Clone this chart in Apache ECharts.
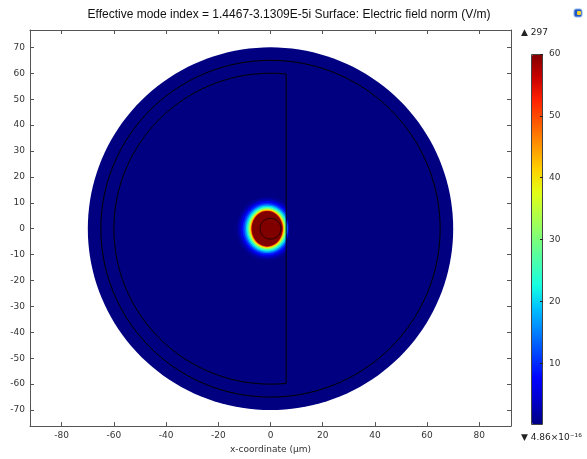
<!DOCTYPE html>
<html><head><meta charset="utf-8">
<script src="https://cdn.jsdelivr.net/npm/echarts@6/dist/echarts.min.js"></script>
<style>html,body{margin:0;padding:0;background:#fff}#c{width:587px;height:459px}</style>
</head><body><div id="c"></div>
<script>
// ---------------- data ----------------
const titleText = 'Effective mode index = 1.4467-3.1309E-5i Surface: Electric field norm (V/m)';
const xAxisName = 'x-coordinate (\u00b5m)';
const xTicks = [-80, -60, -40, -20, 0, 20, 40, 60, 80];
const yTicks = [-70, -60, -50, -40, -30, -20, -10, 0, 10, 20, 30, 40, 50, 60, 70];
const colorbarTicks = [10, 20, 30, 40, 50, 60];
const fieldMin = 4.86e-16;
const fieldMax = 297;
const colorMax = 60;
const maxLabel = '\u25B2 297';
const minLabel = '\u25BC 4.86\u00d710\u207b\u00b9\u2076';

// geometry (µm)
const outerRadius = 70;
const claddingRadius = 65;
const dRadius = 60;
const flatX = 6;
const coreRadius = 4;

// field contours: level (V/m) and ellipse half-widths (µm)
const fieldCenter = [-1.3, 0];
const fieldLevels = [1, 3, 6, 10, 15, 20, 25, 30, 35, 40, 45, 50, 55, 60, 297];
const fieldRx = [11.8, 10.9, 10.1, 9.4, 8.7, 8.1, 7.6, 7.2, 6.85, 6.55, 6.3, 6.1, 5.95, 5.85, 3.0];
const fieldRy = [12.3, 11.4, 10.7, 10.0, 9.4, 8.9, 8.4, 8.0, 7.65, 7.4, 7.15, 6.95, 6.85, 6.75, 3.5];
// field just outside the flat face (x > flatX)
const flankLevels = [4, 10, 18];
const flankRx = [1.1, 0.75, 0.45];
const flankRy = [4.2, 3.5, 2.7];

// jet colour table
const jet = ['#000080','#0000c8','#0000ff','#0040ff','#0080ff','#00bfff','#15ffe2','#48ffaf',
             '#7bff7b','#afff48','#e2ff15','#ffd200','#ff9700','#ff5c00','#ff2100','#c80000','#800000'];

// ---------------- build ----------------
const domainData = [[0, 0, outerRadius, outerRadius, fieldMin]];
const fieldData = fieldLevels.map((v, i) => [fieldCenter[0], fieldCenter[1], fieldRx[i], fieldRy[i], v]);
const flankData = flankLevels.map((v, i) => [flatX, 0, flankRx[i], flankRy[i], v]);

function ellipsePoints(api, cx, cy, rx, ry, side) {
  const pts = [];
  const n = 160;
  for (let k = 0; k < n; k++) {
    const t = 2 * Math.PI * k / n;
    let x = cx + rx * Math.cos(t);
    const y = cy + ry * Math.sin(t);
    if (side < 0) x = Math.min(x, flatX);
    else if (side > 0) x = Math.max(x, flatX);
    pts.push(api.coord([x, y]));
  }
  return pts;
}
function ellipseRenderer(side) {
  return function (params, api) {
    return {
      type: 'polygon',
      shape: { points: ellipsePoints(api, api.value(0), api.value(1), api.value(2), api.value(3), side) },
      style: { fill: api.visual('color'), stroke: null },
      silent: true
    };
  };
}
function geometryRenderer(params, api) {
  const clad = ellipsePoints(api, 0, 0, claddingRadius, claddingRadius, 0);
  const core = ellipsePoints(api, 0, 0, coreRadius, coreRadius, 0);
  const t0 = Math.acos(flatX / dRadius);
  const dPts = [];
  const n = 200;
  for (let k = 0; k <= n; k++) {
    const t = t0 + (2 * Math.PI - 2 * t0) * k / n;
    dPts.push(api.coord([dRadius * Math.cos(t), dRadius * Math.sin(t)]));
  }
  const st = { fill: 'none', stroke: '#000', lineWidth: 1 };
  return {
    type: 'group', silent: true,
    children: [
      { type: 'polygon', shape: { points: clad }, style: st },
      { type: 'polygon', shape: { points: dPts }, style: st },
      { type: 'polygon', shape: { points: core }, style: { fill: 'none', stroke: '#1a0000', lineWidth: 1 } }
    ]
  };
}

const labelFont = { fontFamily: 'DejaVu Sans', fontSize: 9, color: '#333' };
const axisLineStyle = { show: true, onZero: false, lineStyle: { color: '#555', width: 1 } };
const tickStyle = { inside: true, length: 4, lineStyle: { color: '#555' } };
const X0 = -92.15, X1 = 92.15, Y0 = -76.2, Y1 = 76.7;

const chart = echarts.init(document.getElementById('c'), null, { renderer: 'canvas' });
chart.setOption({
  animation: false,
  backgroundColor: '#fff',
  grid: [
    { left: 30, right: 76, top: 30, bottom: 31 },
    { left: 532, top: 54, width: 11, height: 371 }
  ],
  xAxis: [
    { type: 'value', gridIndex: 0, position: 'bottom', min: X0, max: X1,
      axisLine: axisLineStyle, splitLine: { show: false },
      axisTick: Object.assign({ customValues: xTicks }, tickStyle),
      axisLabel: Object.assign({ customValues: xTicks, margin: 5 }, labelFont),
      name: xAxisName, nameLocation: 'middle', nameGap: 17, nameTextStyle: labelFont },
    { type: 'value', gridIndex: 1, show: false, min: 0, max: 1, axisLine: { show: false, onZero: false } },
    { type: 'value', gridIndex: 0, position: 'top', min: X0, max: X1,
      axisLine: axisLineStyle, splitLine: { show: false },
      axisTick: Object.assign({ customValues: xTicks }, tickStyle),
      axisLabel: { show: false } }
  ],
  yAxis: [
    { type: 'value', gridIndex: 0, position: 'left', min: Y0, max: Y1,
      axisLine: axisLineStyle, splitLine: { show: false },
      axisTick: Object.assign({ customValues: yTicks }, tickStyle),
      axisLabel: Object.assign({ customValues: yTicks, margin: 5 }, labelFont) },
    { type: 'value', gridIndex: 1, position: 'right', min: 0, max: colorMax, z: 20,
      axisLine: { show: false, onZero: false }, splitLine: { show: false },
      axisTick: { customValues: colorbarTicks, inside: true, length: 3, lineStyle: { color: '#222' } },
      axisLabel: Object.assign({ customValues: colorbarTicks, margin: 6 }, labelFont) },
    { type: 'value', gridIndex: 0, position: 'right', min: Y0, max: Y1,
      axisLine: axisLineStyle, splitLine: { show: false },
      axisTick: Object.assign({ customValues: yTicks }, tickStyle),
      axisLabel: { show: false } }
  ],
  visualMap: {
    type: 'continuous', min: 0, max: colorMax, dimension: 4, seriesIndex: [0, 1, 2],
    orient: 'vertical', left: 532, top: 54, itemWidth: 11, itemHeight: 371, padding: 0,
    calculable: false, hoverLink: false, text: null, showLabel: false, z: 4,
    inRange: { color: jet }
  },
  series: [
    { type: 'custom', name: 'domain', xAxisIndex: 0, yAxisIndex: 0, data: domainData, renderItem: ellipseRenderer(0), z: 1 },
    { type: 'custom', name: 'field', xAxisIndex: 0, yAxisIndex: 0, data: fieldData, renderItem: ellipseRenderer(-1), z: 2 },
    { type: 'custom', name: 'flank', xAxisIndex: 0, yAxisIndex: 0, data: flankData, renderItem: ellipseRenderer(1), z: 2 },
    { type: 'custom', name: 'geometry', xAxisIndex: 0, yAxisIndex: 0, data: [[0, 0]], renderItem: geometryRenderer, z: 3 }
  ],
  graphic: [
    { type: 'text', x: 289, y: 15, z: 10,
      style: { text: titleText, align: 'center', verticalAlign: 'middle', font: '12px "Liberation Sans", Arial, sans-serif', fill: '#111' } },
    { type: 'text', x: 521, y: 32.5, z: 10,
      style: { text: maxLabel, align: 'left', verticalAlign: 'middle', font: '9px "DejaVu Sans"', fill: '#222' } },
    { type: 'text', x: 521, y: 437.5, z: 10,
      style: { text: minLabel, align: 'left', verticalAlign: 'middle', font: '9px "DejaVu Sans"', fill: '#222' } },
    { type: 'rect', z: 10, shape: { x: 531.5, y: 54.5, width: 11, height: 370 },
      style: { fill: 'none', stroke: '#444', lineWidth: 1 } },
    { type: 'rect', z: 10, shape: { x: 574, y: 9, width: 8, height: 8, r: 2 },
      style: { fill: '#1f57c8', stroke: '#8fb4ea', lineWidth: 1 } },
    { type: 'rect', z: 11, shape: { x: 577, y: 11, width: 4, height: 4, r: 1 },
      style: { fill: '#f2d22e' } }
  ]
});
</script></body></html>
